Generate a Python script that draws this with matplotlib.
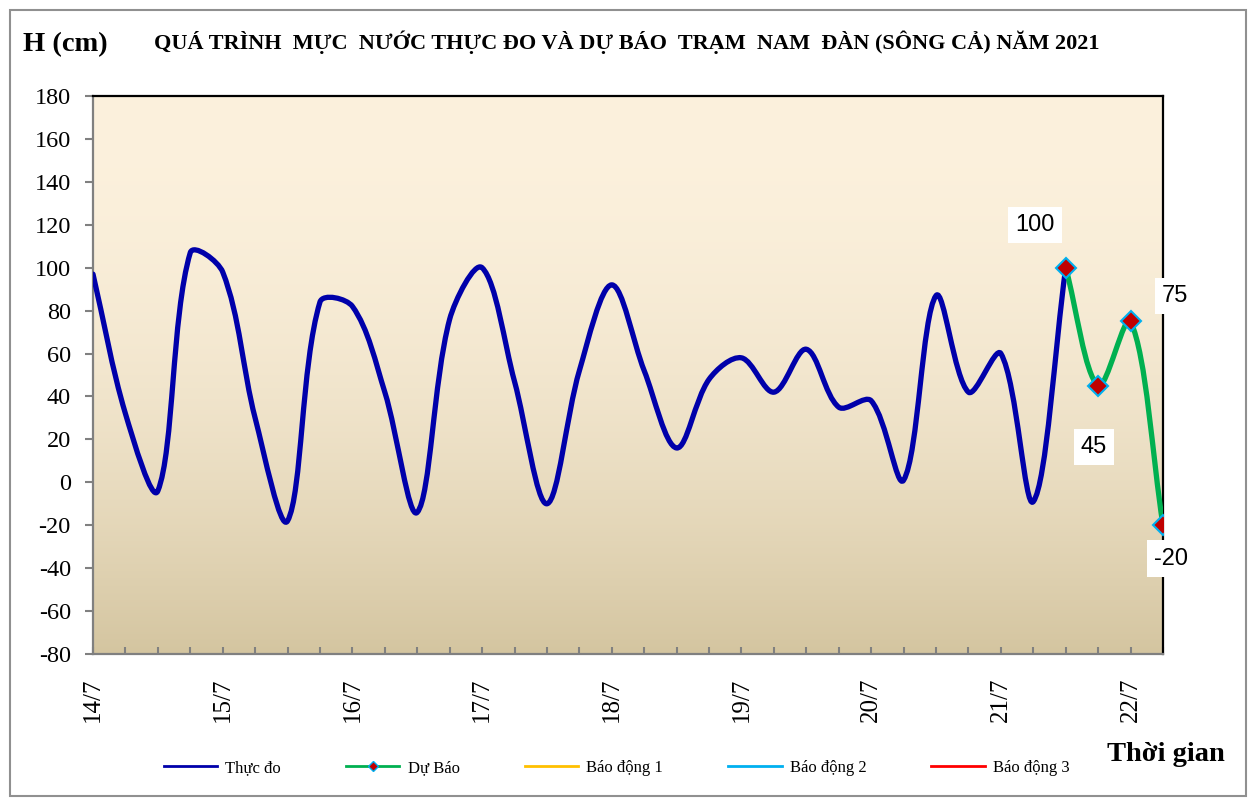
import numpy as np
import matplotlib.pyplot as plt
from matplotlib.path import Path
from matplotlib.patches import PathPatch, Rectangle
from matplotlib.lines import Line2D

# muc nuoc thuc do (cm), 6 gio mot diem, bat dau 14/7
thuc_do = [97, 32, -4, 107, 98, 30, -18, 84, 82, 42, -14, 76, 100, 47, -10,
           52, 92, 52, 16, 48, 58, 42, 62, 35, 38, 1, 87, 42, 60, -9, 100]
du_bao = [100, 45, 75, -20]
ngay = ['14/7', '15/7', '16/7', '17/7', '18/7', '19/7', '20/7', '21/7', '22/7']
bao_dong = [540, 690, 790]  # BD1, BD2, BD3 - nam ngoai khung hinh

x_td = np.arange(len(thuc_do))
x_db = np.arange(len(thuc_do) - 1, len(thuc_do) - 1 + len(du_bao))
n_pts = len(thuc_do) + len(du_bao) - 1

serif = 'Liberation Serif'
sans = 'Liberation Sans'
plt.rcParams['font.family'] = [serif, 'DejaVu Serif']
plt.rcParams['axes.unicode_minus'] = False

fig = plt.figure(figsize=(12.51, 7.98), dpi=100)
ax = fig.add_axes([93 / 1251, 1 - 654 / 798, (1163 - 93) / 1251, (654 - 96) / 798])
ax.set_xlim(0, n_pts - 1)
ax.set_ylim(-80, 180)

# nen chuyen mau
t = np.linspace(0, 1, 256)[:, None]
w = t ** 2
top = np.array([252, 241, 221]) / 255
bot = np.array([212, 197, 160]) / 255
grad = top[None, None, :] * (1 - w)[:, :, None] + bot[None, None, :] * w[:, :, None]
ax.imshow(grad, extent=[0, n_pts - 1, -80, 180], aspect='auto', origin='upper', zorder=0)


def smooth_path(xs, ys, f=1 / 3):
    pts = np.column_stack([xs, ys]).astype(float)
    pix = ax.transData.transform(pts)
    n = len(pts)
    verts = [pts[0]]
    codes = [Path.MOVETO]
    for i in range(n - 1):
        i0, i3 = max(i - 1, 0), min(i + 2, n - 1)
        p0, p1, p2, p3 = pts[i0], pts[i], pts[i + 1], pts[i3]
        q0, q1, q2, q3 = pix[i0], pix[i], pix[i + 1], pix[i3]
        d01 = np.hypot(*(q1 - q0))
        d12 = np.hypot(*(q2 - q1))
        d23 = np.hypot(*(q3 - q2))
        a = d12 / (d01 + d12) if d01 + d12 > 0 else 0
        b = d12 / (d12 + d23) if d12 + d23 > 0 else 0
        verts += [p1 + (p2 - p0) * f * a, p2 - (p3 - p1) * f * b, p2]
        codes += [Path.CURVE4] * 3
    return Path(verts, codes)


ax.add_patch(PathPatch(smooth_path(x_td, thuc_do), fill=False, edgecolor='#0000AA',
                       lw=3.8, capstyle='round', joinstyle='round', zorder=3))
ax.add_patch(PathPatch(smooth_path(x_db, du_bao), fill=False, edgecolor='#00B050',
                       lw=3.8, capstyle='round', joinstyle='round', zorder=4))
ax.plot(x_db, du_bao, ls='none', marker='D', ms=10, mfc='#C00000', mec='#00B0F0',
        mew=1.5, zorder=5)

for c, v in zip(['#FFC000', '#00B0F0', '#FF0000'], bao_dong):
    ax.axhline(v, color=c, lw=2)

offsets = [(-22, 31), (-3, -44), (32, 18), (6, -24)]
for xi, v, off in zip(x_db, du_bao, offsets):
    ax.annotate(str(v), (xi, v), xytext=off, textcoords='offset points',
                ha='center', va='center', fontsize=17, family=sans,
                bbox=dict(boxstyle='square,pad=0.3', fc='white', ec='none'),
                annotation_clip=False, zorder=6)

ax.set_yticks(np.arange(-80, 181, 20))
ax.tick_params(axis='y', direction='out', length=6, width=1.5, color='#808080',
               pad=10, labelsize=17.5)
ax.set_xticks(np.arange(n_pts))
xlabels = [''] * n_pts
for k, d in enumerate(ngay):
    xlabels[k * 4] = d
ax.set_xticklabels(xlabels, rotation=90, va='top', ha='center')
ax.tick_params(axis='x', direction='in', length=5, width=1.5, color='#808080',
               pad=17, labelsize=18)

for s in ['top', 'right']:
    ax.spines[s].set_color('black')
    ax.spines[s].set_linewidth(1.6)
for s in ['left', 'bottom']:
    ax.spines[s].set_color('#808080')
    ax.spines[s].set_linewidth(1.6)

fig.text(0.501, 0.947, 'QUÁ TRÌNH  MỰC  NƯỚC THỰC ĐO VÀ DỰ BÁO  TRẠM  NAM  ĐÀN (SÔNG CẢ) NĂM 2021',
         ha='center', va='center', fontsize=16, weight='bold')
fig.text(0.018, 0.944, 'H (cm)', ha='left', va='center', fontsize=20.5, weight='bold')
fig.text(0.979, 0.054, 'Thời gian', ha='right', va='center', fontsize=20.5, weight='bold')

handles = [
    Line2D([], [], color='#0000AA', lw=2),
    Line2D([], [], color='#00B050', lw=2, marker='D', ms=5, mfc='#C00000', mec='#00B0F0'),
    Line2D([], [], color='#FFC000', lw=2),
    Line2D([], [], color='#00B0F0', lw=2),
    Line2D([], [], color='#FF0000', lw=2),
]
fig.legend(handles, ['Thực đo', 'Dự Báo', 'Báo động 1', 'Báo động 2', 'Báo động 3'],
           loc='center', bbox_to_anchor=(0.493, 0.038), ncol=5, frameon=False,
           prop={'size': 12}, handlelength=3.2, handletextpad=0.5,
           columnspacing=3.9)

fig.add_artist(Rectangle((10 / 1251, 2 / 798), 1236 / 1251, 786 / 798,
                         transform=fig.transFigure, fill=False, ec='#909090', lw=1.5))

fig.savefig('out.png', dpi=100)
